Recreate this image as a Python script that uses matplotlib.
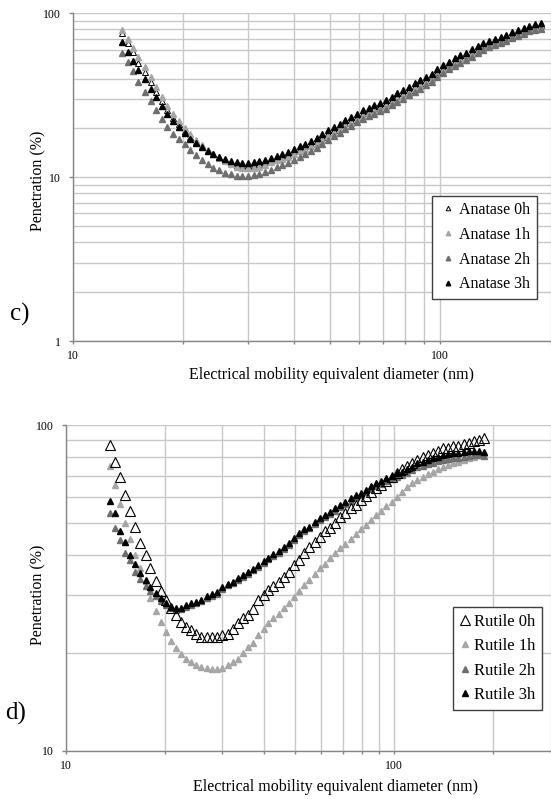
import matplotlib
matplotlib.use('Agg')
import matplotlib.pyplot as plt
import numpy as np

plt.rcParams['font.family'] = ['Liberation Serif', 'DejaVu Serif']

# SMPS channel mid-point diameters (nm)
diam = [13.6, 14.1, 14.6, 15.1, 15.7, 16.3, 16.8, 17.5, 18.1, 18.8, 19.5, 20.2, 20.9, 21.7, 22.5,
        23.3, 24.1, 25.0, 25.9, 26.9, 27.9, 28.9, 30.0, 31.1, 32.2, 33.4, 34.6, 35.9, 37.2, 38.5,
        40.0, 41.4, 42.9, 44.5, 46.1, 47.8, 49.6, 51.4, 53.3, 55.2, 57.3, 59.4, 61.5, 63.8, 66.1,
        68.5, 71.0, 73.7, 76.4, 79.1, 82.0, 85.1, 88.2, 91.4, 94.7, 98.2, 101.8, 105.5, 109.4,
        113.4, 117.6, 121.9, 126.3, 131.0, 135.8, 140.7, 145.9, 151.2, 156.8, 162.5, 168.5,
        174.7, 181.1, 187.7]

# c) anatase penetration (%)
anatase_0h = [76, 66, 58, 50, 44, 38, 33, 29.2, 25.8, 23.1, 21.0, 19.2, 17.7, 16.5, 15.4, 14.6,
              13.9, 13.2, 12.7, 12.2, 11.9, 11.8, 11.7, 11.8, 12.0, 12.3, 12.7, 13.1,
              13.3, 13.7, 14.4, 14.9, 15.4, 16.0, 16.6, 17.6, 18.5, 19.4, 20.4, 21.3, 22.4, 23.4,
              24.6, 25.5, 26.4, 27.3, 28.3, 29.7, 31.1, 32.6, 34.2, 35.8, 37.6, 39.4, 41.3, 43.7,
              46.5, 48.7, 51.1, 53.4, 55.4, 58.1, 60.9, 63.8, 65.8, 67.7, 69.6, 71.6, 74.2, 76.6,
              79.0, 81.3, 83.2, 84.4]
anatase_1h = [79.0, 70.0, 61.5, 54.0, 47.0, 41.0, 35.5, 31.0, 27.3, 24.4, 22.0, 19.9, 18.3, 16.9,
              15.7, 14.7, 13.9, 13.1, 12.5, 12.0, 11.6, 11.4, 11.3, 11.4, 11.6, 11.9, 12.3, 12.7,
              12.9, 13.3, 13.9, 14.4, 14.8, 15.4, 16.0, 16.9, 17.8, 18.7, 19.6, 20.5, 21.5, 22.5,
              23.6, 24.5, 25.4, 26.2, 27.2, 28.5, 29.9, 31.3, 32.8, 34.4, 36.1, 38.0, 39.8, 42.1,
              44.8, 46.9, 49.2, 51.6, 53.5, 56.1, 58.8, 61.6, 63.7, 65.5, 67.4, 69.3, 71.9, 74.3,
              76.8, 79.0, 80.9, 82.1]
anatase_2h = [56.9, 50.1, 44.4, 38.2, 33.1, 29.2, 25.8, 22.8, 20.2, 18.4, 17.2, 15.9, 14.6, 13.6,
              12.7, 12.0, 11.4, 11.0, 10.6, 10.4, 10.2, 10.2, 10.2, 10.3, 10.5, 10.7, 11.1, 11.5,
              11.8, 12.2, 12.8, 13.3, 13.9, 14.4, 15.1, 16.0, 16.9, 17.8, 18.7, 19.7, 20.6, 21.6,
              22.8, 23.6, 24.4, 25.2, 26.2, 27.5, 28.8, 30.2, 31.6, 33.1, 34.7, 36.6, 38.3, 40.6,
              43.1, 45.4, 47.6, 49.9, 51.8, 54.3, 57.1, 59.9, 61.9, 63.7, 65.8, 67.7, 70.3, 72.6,
              75.1, 77.6, 79.4, 80.5]
anatase_3h = [66.4, 58.0, 51.5, 45.0, 39.5, 34.5, 30.8, 27.3, 24.3, 21.9, 20.1, 18.6, 17.2, 16.1,
              15.2, 14.5, 13.9, 13.3, 12.9, 12.5, 12.3, 12.2, 12.2, 12.3, 12.5, 12.8, 13.1, 13.5,
              13.8, 14.2, 14.9, 15.4, 16.0, 16.6, 17.3, 18.3, 19.3, 20.2, 21.2, 22.2, 23.3, 24.4,
              25.6, 26.6, 27.5, 28.4, 29.5, 30.9, 32.4, 33.9, 35.6, 37.3, 39.1, 40.9, 42.9, 45.4,
              48.3, 50.6, 53.0, 55.3, 57.4, 60.2, 63.1, 66.1, 68.0, 70.0, 71.9, 74.0, 76.5, 79.0,
              81.3, 83.6, 85.6, 86.8]

# d) rutile penetration (%)
rutile_0h = [87, 77.3, 69.5, 61, 54.5, 48.8, 43.4, 40.0, 36.5, 33.3, 31.0, 29.1, 27.4, 26.2, 24.8,
             24.0, 23.5, 22.8, 22.4, 22.4, 22.3, 22.3, 22.7, 22.8, 23.6, 24.6, 25.6, 26.2, 27.2,
             29.0, 30.0, 31.1, 32.0, 33.1, 34.3, 35.5, 37.3, 38.6, 40.5, 42.4, 43.9, 45.5, 47.2,
             48.3, 50.0, 52.2, 53.9, 55.6, 56.9, 59.0, 60.6, 62.5, 64.0, 65.6, 67.6, 69.5, 71.5,
             73.2, 75.0, 76.4, 78.2, 80.1, 81.1, 82.4, 83.6, 85.0, 85.0, 86.5, 86.1, 87.7, 88.5,
             89.2, 89.9, 91.4]
rutile_1h = [75, 65.6, 57.3, 50.0, 44.6, 40.0, 36.5, 33.2, 29.5, 26.8, 24.8, 23.2, 21.8, 20.7, 19.8,
             19.1, 18.7, 18.3, 18.1, 17.9, 17.8, 17.8, 18.0, 18.3, 18.7, 19.1, 20.0, 20.8, 21.5,
             22.6, 23.6, 24.6, 25.5, 26.4, 27.4, 28.5, 29.7, 31.0, 32.3, 33.5, 34.9, 36.4, 37.6,
             39.0, 40.4, 41.9, 43.2, 44.6, 46.3, 47.9, 49.4, 51.2, 53.0, 54.7, 56.5, 58.3, 60.4,
             62.5, 64.5, 66.3, 67.9, 69.6, 70.9, 72.0, 73.2, 74.6, 75.5, 76.4, 77.3, 78.2, 79.2,
             80.1, 81.0, 82.0]
rutile_2h = [53.6, 48.5, 44.5, 40.5, 38.5, 35.5, 33.8, 32.0, 30.9, 29.8, 28.8, 28.0, 27.4, 27.1,
             27.2, 27.6, 28.0, 28.4, 28.8, 29.4, 29.9, 30.4, 31.4, 32.2, 32.8, 33.5, 34.3, 35.0,
             35.8, 36.8, 37.8, 38.8, 39.7, 40.6, 41.7, 42.9, 44.3, 45.9, 47.2, 48.2, 49.8, 51.0,
             52.2, 53.5, 54.7, 56.0, 57.3, 58.6, 60.0, 61.0, 62.2, 63.8, 65.0, 66.2, 67.3, 68.4,
             69.6, 70.4, 71.5, 72.8, 74.3, 75.0, 75.8, 76.7, 77.5, 78.3, 78.8, 79.2, 79.6, 80.1,
             80.5, 80.8, 81.0, 80.6]
rutile_3h = [58.7, 53.6, 47.5, 43.9, 40.0, 37.6, 35.1, 33.5, 31.9, 30.5, 29.4, 28.4, 27.6, 27.4,
             27.5, 28.1, 28.4, 28.7, 29.1, 29.8, 30.3, 30.7, 31.8, 32.6, 33.1, 33.9, 34.7, 35.4,
             36.1, 37.2, 38.2, 39.2, 40.2, 41.0, 42.2, 43.4, 44.9, 46.6, 47.9, 48.8, 50.6, 51.8,
             53.0, 54.3, 55.6, 56.9, 58.3, 59.6, 61.1, 62.1, 63.3, 65.1, 66.3, 67.6, 68.7, 69.9,
             71.2, 72.0, 73.2, 74.6, 76.4, 77.3, 78.2, 79.2, 80.1, 81.1, 81.6, 82.0, 82.4, 83.0,
             83.4, 83.6, 83.6, 83.0]

W, H = 551, 799
fig = plt.figure(figsize=(W / 100, H / 100), dpi=100)

grid_c = '#c8c8c8'
spine_c = '#868686'
c1h = '#a6a6a6'
c2h = '#6e6e6e'


def setup_axes(ax, xmax, ymin):
    ax.set_xscale('log')
    ax.set_yscale('log')
    ax.set_xlim(10, xmax)
    ax.set_ylim(ymin, 100)
    ax.set_xticks([10, 100])
    ax.set_xticklabels(['10', '100'])
    ax.set_xticks([v for v in [20, 30, 40, 50, 60, 70, 80, 90, 200, 300] if v <= xmax], minor=True)
    ax.xaxis.set_minor_formatter(matplotlib.ticker.NullFormatter())
    yt = [v for v in [1, 10, 100] if v >= ymin]
    ax.set_yticks(yt)
    ax.set_yticklabels([str(v) for v in yt])
    ym = [v * d for d in [1, 10] for v in range(2, 10) if v * d > ymin]
    ax.set_yticks(ym, minor=True)
    ax.yaxis.set_minor_formatter(matplotlib.ticker.NullFormatter())
    ax.grid(True, which='both', color=grid_c, linewidth=1.0)
    ax.set_axisbelow(True)
    for s in ['top', 'right']:
        ax.spines[s].set_visible(False)
    for s in ['left', 'bottom']:
        ax.spines[s].set_color(spine_c)
        ax.spines[s].set_linewidth(1.0)
    ax.tick_params(axis='x', which='both', direction='out', length=2.5, width=1, color=spine_c,
                   labelsize=8.5, pad=4)
    ax.tick_params(axis='y', which='major', direction='out', length=3.2, width=1, color=spine_c,
                   labelsize=8.5, pad=5)
    ax.tick_params(axis='y', which='minor', length=0)


# ---- c) anatase ----
ax1 = fig.add_axes([72.7 / W, 1 - 341 / H, (W - 72.7) / W, (341 - 13.3) / H])
setup_axes(ax1, 200, 1)
ms = 4.4
ax1.plot(diam, anatase_0h, ls='none', marker='^', ms=ms, mfc='white', mec='black', mew=0.7,
         label='Anatase 0h', zorder=2)
ax1.plot(diam, anatase_1h, ls='none', marker='^', ms=ms, mfc=c1h, mec=c1h, label='Anatase 1h', zorder=3)
ax1.plot(diam, anatase_2h, ls='none', marker='^', ms=ms, mfc=c2h, mec=c2h, label='Anatase 2h', zorder=4)
ax1.plot(diam, anatase_3h, ls='none', marker='^', ms=ms, mfc='black', mec='black', label='Anatase 3h', zorder=5)
leg1 = ax1.legend(loc='upper left', bbox_to_anchor=(432.3 / W, 1 - 195.7 / H), bbox_transform=fig.transFigure,
                  fontsize=11.5, markerscale=0.75, frameon=True, fancybox=False, framealpha=1,
                  edgecolor='#404040', borderpad=0.4, labelspacing=0.55, handlelength=1.2,
                  handletextpad=0.1, borderaxespad=0)
leg1.get_frame().set_linewidth(1.0)

# ---- d) rutile ----
ax2 = fig.add_axes([65.7 / W, 1 - 750.7 / H, (W - 65.7) / W, (750.7 - 425.3) / H])
setup_axes(ax2, 300, 10)
ax2.plot(diam, rutile_0h, ls='none', marker='^', ms=6.5, mfc='none', mec='black', mew=0.8,
         label='Rutile 0h', zorder=6)
ax2.plot(diam, rutile_1h, ls='none', marker='^', ms=4.8, mfc=c1h, mec=c1h, label='Rutile 1h', zorder=3)
ax2.plot(diam, rutile_2h, ls='none', marker='^', ms=4.4, mfc=c2h, mec=c2h, label='Rutile 2h', zorder=4)
ax2.plot(diam, rutile_3h, ls='none', marker='^', ms=4.8, mfc='black', mec='black', label='Rutile 3h', zorder=5)
leg2 = ax2.legend(loc='upper left', bbox_to_anchor=(453.3 / W, 1 - 607.3 / H), bbox_transform=fig.transFigure,
                  fontsize=12, markerscale=1.0, frameon=True, fancybox=False, framealpha=1,
                  edgecolor='#404040', borderpad=0.4, labelspacing=0.5, handlelength=0.6,
                  handletextpad=0.25, borderaxespad=0)
leg2.get_frame().set_linewidth(1.0)

# axis titles and panel letters
xl = 'Electrical mobility equivalent diameter (nm)'
fig.text(331.7 / W, 1 - 375 / H, xl, fontsize=11.5, ha='center', va='center')
fig.text(335.5 / W, 1 - 787 / H, xl, fontsize=11.5, ha='center', va='center')
fig.text(38.6 / W, 1 - 181 / H, 'Penetration (%)', fontsize=11.5, rotation=90, ha='center', va='center')
fig.text(38.3 / W, 1 - 595 / H, 'Penetration (%)', fontsize=11.5, rotation=90, ha='center', va='center')
fig.text(20 / W, 1 - 314 / H, 'c)', fontsize=18, ha='center', va='center')
fig.text(16 / W, 1 - 713 / H, 'd)', fontsize=18, ha='center', va='center')

fig.savefig('out.png', dpi=100)
